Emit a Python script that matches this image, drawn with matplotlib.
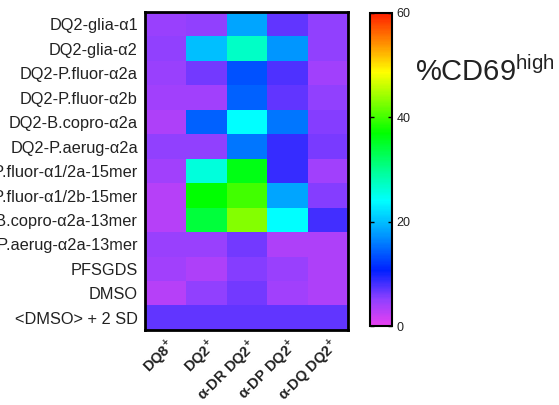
import numpy as np
import matplotlib
matplotlib.use('Agg')
import matplotlib.pyplot as plt
from matplotlib.colors import LinearSegmentedColormap

plt.rcParams['font.family'] = ['Liberation Sans', 'DejaVu Sans']
plt.rcParams['mathtext.fontset'] = 'custom'
plt.rcParams['mathtext.rm'] = 'Liberation Sans'
plt.rcParams['mathtext.bf'] = 'Liberation Sans:bold'

# Данные
peptides = ['DQ2-glia-α1', 'DQ2-glia-α2', 'DQ2-P.fluor-α2a', 'DQ2-P.fluor-α2b',
            'DQ2-B.copro-α2a', 'DQ2-P.aerug-α2a', 'DQ2-P.fluor-α1/2a-15mer',
            'DQ2-P.fluor-α1/2b-15mer', 'DQ2-B.copro-α2a-13mer',
            'DQ2-P.aerug-α2a-13mer', 'PFSGDS', 'DMSO', '<DMSO> + 2 SD']
conditions = [r'DQ8$^{\mathbf{+}}$', r'DQ2$^{\mathbf{+}}$', r'α-DR DQ2$^{\mathbf{+}}$',
              r'α-DP DQ2$^{\mathbf{+}}$', r'α-DQ DQ2$^{\mathbf{+}}$']
cd69 = np.array([
    [4.5, 5, 18.5, 7, 5],
    [5, 20, 27, 17.5, 5],
    [4.5, 6.2, 13.5, 7.5, 4],
    [4, 4, 14.5, 7, 5],
    [3.5, 14.5, 24, 15.5, 5.5],
    [5, 5, 15.5, 8.5, 6],
    [4, 26, 36, 8.5, 4],
    [3, 37, 40, 18.5, 5.5],
    [3, 34, 43, 24, 8],
    [4.5, 4.5, 6.2, 3.5, 3.5],
    [4, 3.5, 5.5, 4.5, 3.5],
    [3, 5, 6.2, 4, 3.5],
    [7, 7, 7, 7, 7],
])

# Палитра как в Prism (розовый -> фиолетовый -> синий -> голубой -> зелёный -> жёлтый -> красный)
cmap = LinearSegmentedColormap.from_list('prism_rainbow', [
    (0.0, '#e840f0'),
    (5 / 60, '#9040ff'),
    (10.6 / 60, '#0020ff'),
    (17 / 60, '#0090ff'),
    (24 / 60, '#00ffff'),
    (30 / 60, '#00ff90'),
    (37 / 60, '#00ff00'),
    (48.7 / 60, '#ffff00'),
    (55 / 60, '#ff8000'),
    (1.0, '#ff2000'),
])

fig = plt.figure(figsize=(5.59, 4.05), dpi=100)
ax = fig.add_axes([0.259, 0.185, 0.364, 0.785])
cax = fig.add_axes([0.662, 0.195, 0.039, 0.773])

im = ax.imshow(cd69, cmap=cmap, vmin=0, vmax=60, aspect='auto', interpolation='nearest')
ax.set_yticks(range(len(peptides)))
ax.set_yticklabels(peptides, fontsize=11.8, color='#222222')
ax.set_xticks(range(len(conditions)))
ax.set_xticklabels(conditions, fontsize=10.5, fontweight='bold', rotation=45,
                   ha='right', va='top', rotation_mode='anchor', color='#222222')
ax.tick_params(axis='y', length=0, pad=5)
ax.tick_params(axis='x', length=0, pad=4)
for s in ax.spines.values():
    s.set_linewidth(2)

cb = fig.colorbar(im, cax=cax, ticks=[0, 20, 40, 60])
cb.outline.set_linewidth(1.5)
cax.tick_params(labelsize=9, direction='in', length=3, width=1, left=True, right=True,
                labelcolor='#222222')
fig.text(0.742, 0.80, r'%CD69$^{\mathrm{high}}$', fontsize=21, color='#222222')

fig.savefig('out.png', dpi=100)
